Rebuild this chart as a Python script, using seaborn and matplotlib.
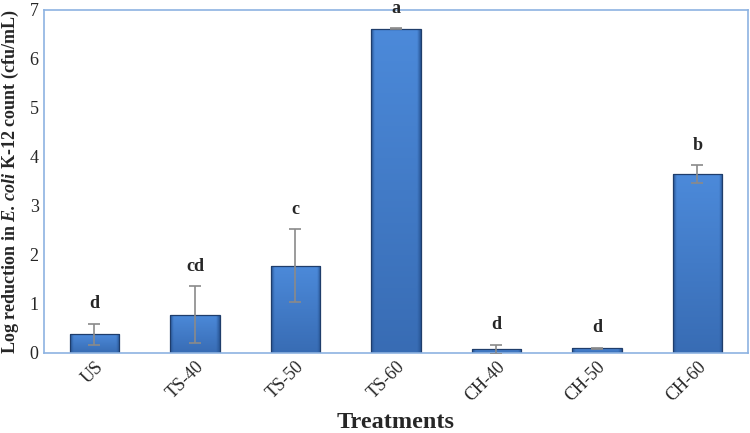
import numpy as np
import pandas as pd
import matplotlib
matplotlib.use("Agg")
import matplotlib.pyplot as plt
import seaborn as sns

# values
treatments = ["US", "TS-40", "TS-50", "TS-60", "CH-40", "CH-50", "CH-60"]
log_reduction = [0.38, 0.78, 1.78, 6.62, 0.07, 0.09, 3.65]
std_err = [0.22, 0.58, 0.75, 0.01, 0.10, 0.02, 0.18]
letters = ["d", "cd", "c", "a", "d", "d", "b"]

df = pd.DataFrame({"treatment": treatments, "reduction": log_reduction})

sns.set_style("white")
plt.rcParams["font.family"] = ["Liberation Serif", "DejaVu Serif"]
plt.rcParams["mathtext.fontset"] = "custom"
plt.rcParams["mathtext.rm"] = "Liberation Serif"
plt.rcParams["mathtext.it"] = "Liberation Serif:italic"
plt.rcParams["mathtext.bf"] = "Liberation Serif:bold"
plt.rcParams["mathtext.bfit"] = "Liberation Serif:italic:bold"

fig = plt.figure(figsize=(7.5, 4.33), dpi=100)
ax = fig.add_axes([0.059, 0.185, 0.938, 0.792])

sns.barplot(x="treatment", y="reduction", data=df, color="#4280cf",
            width=0.49, edgecolor="#1f3d6b", linewidth=0.9, ax=ax)

# excel-like fill: lighter at the top, darker at the bottom, darker bevel at the sides
ny, nx = 200, 60
v = np.linspace(1.0, 0.0, ny)[:, None]          # 1 at top, 0 at bottom
u = np.linspace(0, 1, nx)[None, :]
edge = np.clip(np.minimum(u, 1 - u) / 0.07, 0, 1)
top = np.array([0x4c, 0x8a, 0xda]) / 255
bot = np.array([0x38, 0x6c, 0xb4]) / 255
side = np.array([0x2a, 0x58, 0x98]) / 255
base = bot + (top - bot) * v[..., None]
img = side + (base - side) * edge[..., None]
img = np.clip(img, 0, 1)

for p in ax.patches:
    x0, y0 = p.get_x(), p.get_y()
    w, h = p.get_width(), p.get_height()
    im = ax.imshow(img, aspect="auto", interpolation="bilinear",
                   extent=[x0, x0 + w, y0, y0 + h], zorder=p.get_zorder() + 0.1)
    im.set_clip_path(p)
    p.set_facecolor("none")
    p.set_zorder(p.get_zorder() + 0.2)

xs = [p.get_x() + p.get_width() / 2 for p in ax.patches]
ax.errorbar(xs, log_reduction, yerr=std_err, fmt="none", ecolor="#8a8a8a",
            elinewidth=1.2, capsize=4, capthick=1.2, zorder=5)

for x, m, e, lab in zip(xs, log_reduction, std_err, letters):
    ax.annotate(lab, (x, m + e), xytext=(0, 8), textcoords="offset points",
                ha="center", va="bottom", fontsize=13, fontweight="bold")

ax.set_xlim(-0.5, len(treatments) - 0.5)
ax.set_ylim(0, 7)
ax.set_yticks(range(0, 8))
ax.tick_params(axis="both", labelsize=13, length=0, pad=4)
plt.setp(ax.get_xticklabels(), rotation=45, ha="right", rotation_mode="anchor")

for s in ax.spines.values():
    s.set_visible(True)
    s.set_color("#8db3e2")
    s.set_linewidth(1.2)

ax.set_xlabel("Treatments", fontsize=17.5, fontweight="bold", labelpad=5)
ax.set_ylabel("Log reduction in $\\mathbfit{E.\\,coli}$ K-12 count (cfu/mL)",
              fontsize=13, fontweight="bold", labelpad=6)

fig.savefig("out.png", dpi=100)
